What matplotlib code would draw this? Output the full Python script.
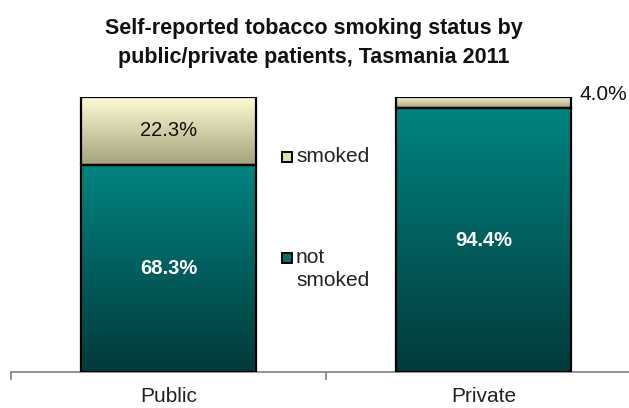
import numpy as np
import matplotlib
matplotlib.use("Agg")
import matplotlib.pyplot as plt
from matplotlib import font_manager
from matplotlib.patches import Rectangle
from matplotlib.colors import to_rgb

categories = ["Public", "Private"]
not_smoked = [68.3, 94.4]
smoked = [22.3, 4.0]
series_names = ["smoked", "not\nsmoked"]
title = "Self-reported tobacco smoking status by\npublic/private patients, Tasmania 2011"

names = {f.name for f in font_manager.fontManager.ttflist}
base_font = "Liberation Sans" if "Liberation Sans" in names else "DejaVu Sans"
title_font = "Liberation Sans Narrow" if "Liberation Sans Narrow" in names else base_font
plt.rcParams["font.family"] = [base_font, "DejaVu Sans"]

W, H = 629, 408
fig = plt.figure(figsize=(W / 100, H / 100), dpi=100)
fig.patch.set_facecolor("white")

def px(x, y):
    return x / W, 1 - y / H

left = 11 / W
bottom = (H - 372) / H
height = (372 - 97) / H
width = 630 / W
ax = fig.add_axes([left, bottom, width, height])

x = np.arange(len(categories))
tot = np.array(not_smoked) + np.array(smoked)
ns_frac = np.array(not_smoked) / tot
sm_frac = np.array(smoked) / tot
bw = 0.556

teal_top, teal_bot = "#008481", "#033a3a"
cream_top, cream_bot = "#fffbd4", "#a5a17b"

def grad_bars(bars, ctop, cbot):
    c1, c2 = np.array(to_rgb(ctop)), np.array(to_rgb(cbot))
    t = np.linspace(0, 1, 256)[:, None]
    img = (c1 * (1 - t) + c2 * t)[:, None, :]
    for b in bars:
        x0, y0 = b.get_x(), b.get_y()
        x1, y1 = x0 + b.get_width(), y0 + b.get_height()
        im = ax.imshow(img, extent=(x0, x1, y0, y1), aspect="auto",
                       origin="upper", zorder=1, interpolation="bilinear")
        im.set_clip_path(b)

b1 = ax.bar(x, ns_frac, bw, facecolor="none", edgecolor="black", linewidth=1.6, zorder=3)
b2 = ax.bar(x, sm_frac, bw, bottom=ns_frac, facecolor="none", edgecolor="black", linewidth=1.6, zorder=3)
grad_bars(b1, teal_top, teal_bot)
grad_bars(b2, cream_top, cream_bot)

fs = 14.5
for i in range(len(categories)):
    ax.text(x[i], ns_frac[i] / 2, f"{not_smoked[i]:.1f}%", ha="center", va="center",
            color="white", fontsize=fs, fontweight="bold", zorder=5)
    if sm_frac[i] > 0.1:
        ax.text(x[i], ns_frac[i] + sm_frac[i] / 2, f"{smoked[i]:.1f}%", ha="center", va="center",
                color="#111111", fontsize=fs, zorder=5)
    else:
        ax.annotate(f"{smoked[i]:.1f}%", xy=(x[i] + bw / 2, ns_frac[i] + sm_frac[i] / 2),
                    xytext=(6, 6), textcoords="offset points", ha="left", va="center",
                    color="#111111", fontsize=15, zorder=5, annotation_clip=False)

ax.set_xlim(-0.5, 1.5)
ax.set_ylim(0, 1)
ax.set_autoscale_on(False)
for s in ["top", "right", "left"]:
    ax.spines[s].set_visible(False)
ax.spines["bottom"].set_color("#808080")
ax.spines["bottom"].set_linewidth(1.2)
ax.set_yticks([])
ax.set_xticks(x)
ax.set_xticklabels(categories, fontsize=15, color="#222222")
ax.tick_params(axis="x", which="major", length=0, pad=11)
ax.set_xticks([-0.5, 0.5, 1.5], minor=True)
ax.tick_params(axis="x", which="minor", length=6, width=1.2, color="#808080", direction="out")
ax.patch.set_visible(False)

# legend (manual)
leg_items = [(series_names[0], "#e2deb0", 157), (series_names[1], "#007070", 258)]
for label, col, yc in leg_items:
    sx, sy = px(282, yc + 5)
    fig.patches.append(Rectangle((sx, sy), 10 / W, 10 / H, transform=fig.transFigure,
                                 facecolor=col, edgecolor="black", linewidth=1.4, figure=fig))
    tx, ty = px(296, yc - 10)
    fig.text(tx, ty, label, ha="left", va="top", fontsize=15, color="#222222", linespacing=1.3)

tx, ty = px(314, 43)
fig.text(tx, ty, title, ha="center", va="center", fontsize=15.5, fontweight="bold",
         family=[title_font, "DejaVu Sans"], linespacing=1.45, color="#111111")

fig.savefig("out.png", dpi=100, facecolor="white")
